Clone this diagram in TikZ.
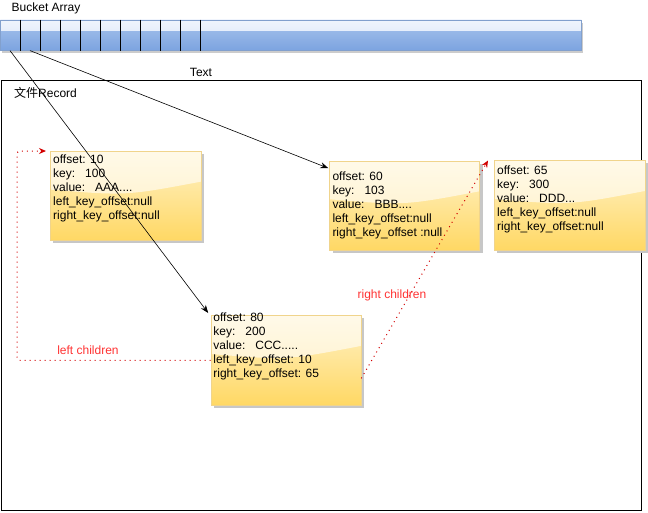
\documentclass[tikz,border=0pt]{standalone}
\usepackage{fontspec}
\setmainfont{Liberation Sans}
\newfontfamily\cjk{Noto Sans CJK SC}
\usetikzlibrary{arrows.meta,calc,shadows}
\definecolor{boxtop}{RGB}{255,242,200}
\definecolor{boxbot}{RGB}{255,216,100}
\definecolor{boxedge}{RGB}{240,212,140}
\definecolor{bucktop}{RGB}{240,245,253}
\definecolor{buckmid}{RGB}{214,226,246}
\definecolor{buckmid2}{RGB}{168,195,236}
\definecolor{buckbot}{RGB}{124,164,224}
\definecolor{buckedge}{RGB}{130,160,205}
\definecolor{redline}{RGB}{210,0,0}
\definecolor{redtext}{RGB}{255,50,50}
\begin{document}
\begin{tikzpicture}[x=1pt,y=-1pt,
  every node/.style={font=\fontsize{12}{14}\selectfont},
  recbox/.style={draw=boxedge, line width=0.6pt, top color=boxtop, bottom color=boxbot,
    anchor=north west, inner sep=0pt,
    drop shadow={shadow xshift=3pt, shadow yshift=-3pt, fill=black!22, opacity=1},
    path picture={
      \fill[white,opacity=0.6] (path picture bounding box.north west) -- (path picture bounding box.north east)
        -- ($(path picture bounding box.north east)!0.34!(path picture bounding box.south east)$)
        .. controls ($(path picture bounding box.north east)!0.5!(path picture bounding box.south west)$)
        .. ($(path picture bounding box.north west)!0.43!(path picture bounding box.south west)$) -- cycle;
    }},
  rectext/.style={anchor=north west, inner sep=0pt, align=left},
  blkarrow/.style={-{Stealth[length=8pt,width=6pt]}, line width=0.6pt, black},
  redcon/.style={-{Stealth[length=7pt,width=6pt]}, redline, line width=1pt, dash pattern=on 1pt off 4pt},
  redlabel/.style={text=redtext}
]
\useasboundingbox (0,0) rectangle (648,512);

% bucket array
\node (blabel) at (46,8) {Bucket Array};
\node[draw=buckedge, line width=0.6pt, anchor=north west, inner sep=0pt,
  minimum width=581pt, minimum height=30.5pt,
  top color=bucktop, bottom color=buckmid,
  drop shadow={shadow xshift=2pt, shadow yshift=-3pt, fill=black!20, opacity=1},
  path picture={
    \shade[top color=buckmid2, bottom color=buckbot]
      ($(path picture bounding box.west)+(0,-1.7)$ |- path picture bounding box.center) ++(0,-1.7)
      rectangle (path picture bounding box.south east);
  }] (bucket) at (0,19.5) {};
\foreach \i in {1,...,10}
  \draw[black, line width=0.8pt] ($(bucket.north west)+(20*\i+0.7,0)$) -- ($(bucket.south west)+(20*\i+0.7,0)$);
\coordinate (b0) at ($(bucket.south west)+(10,0)$);
\coordinate (b1) at ($(bucket.south west)+(30,0)$);

% record frame
\node (tlabel) at (201,72) {Text};
\node[draw, line width=1pt, anchor=north west, inner sep=0pt, minimum width=640pt, minimum height=430pt] (frame) at (0.5,80) {};
\node[anchor=west, inner sep=0pt] (flabel) at (14,93) {{\cjk 文件}Record};

% records
\node[recbox, minimum width=151pt, minimum height=89pt] (a) at (50,151) {};
\node[recbox, minimum width=150pt, minimum height=89pt] (b) at (329.3,160.7) {};
\node[recbox, minimum width=151pt, minimum height=90pt] (d) at (494,160) {};
\node[recbox, minimum width=150pt, minimum height=90pt] (c) at (210.7,315) {};

\node[rectext] (at) at ($(a.north west)+(3,3.4)$) {offset: 10\\key:\ \ \ 100\\value:\ \ \ AAA....\\left\_key\_offset:null\\right\_key\_offset:null};
\node[rectext] (bt) at ($(b.north west)+(3,11.2)$) {offset: 60\\key:\ \ \ 103\\value:\ \ \ BBB....\\left\_key\_offset:null\\right\_key\_offset :null};
\node[rectext] (dt) at ($(d.north west)+(3,5.2)$) {offset: 65\\key:\ \ \ 300\\value:\ \ \ DDD...\\left\_key\_offset:null\\right\_key\_offset:null};
\node[rectext] (ct) at ($(c.north west)+(2.5,-2.6)$) {offset: 80\\key:\ \ \ 200\\value:\ \ \ CCC.....\\left\_key\_offset: 10\\right\_key\_offset: 65};

% black pointers
\coordinate (cin) at ($(c.north west)+(-2.5,-2)$);
\coordinate (bin) at ($(b.north west)+(-1,7.5)$);
\draw[blkarrow] (b0) -- (cin);
\draw[blkarrow] (b1) -- (bin);

% children links
\coordinate (lx) at (17,0);
\coordinate (aend) at ($(a.north west)+(-4,0)$);
\coordinate (dend) at ($(d.north west)+(-6,0.5)$);
\coordinate (cright) at ($(c.east)+(0,18)$);
\draw[redcon, rounded corners=3pt] (c.west) -| (lx |- a.north west) -- (aend);
\draw[redcon] (cright) -- (dend);
\node[redlabel] (lleft) at (88,350) {left children};
\node[redlabel] (lright) at (392,295) {right children};
\end{tikzpicture}
\end{document}
